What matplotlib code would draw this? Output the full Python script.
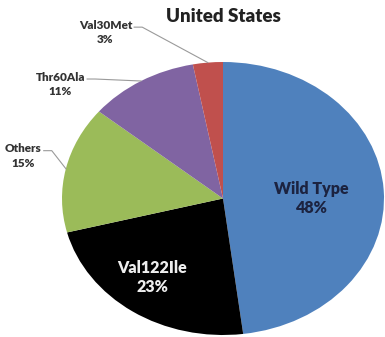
import numpy as np
import matplotlib.pyplot as plt

labels = ['Wild Type', 'Val122Ile', 'Others', 'Thr60Ala', 'Val30Met']
shares = [48, 23, 15, 11, 3]
colors = ['#4F81BD', '#000000', '#9BBB59', '#8064A2', '#C0504D']

plt.rcParams['font.family'] = ['Lato', 'DejaVu Sans']

W, H = 385, 337
fig = plt.figure(figsize=(W / 100, H / 100), dpi=100)
# pie box in pixels: x 62..384, y 62..335 (slightly stretched horizontally)
ax = fig.add_axes([62 / W, (H - 335) / H, 322 / W, 273 / H])
wedges, _ = ax.pie(shares, colors=colors, startangle=90, counterclock=False,
                   radius=1.0, wedgeprops=dict(linewidth=0))
ax.set_aspect('auto')
ax.set_xlim(-1, 1)
ax.set_ylim(-1, 1)
ax.axis('off')

# inside labels
inside = {'Wild Type': (0.55, 0.0, '#1c2340'), 'Val122Ile': (-0.44, -0.58, '#eeeeee')}
for lab, (x, y, c) in inside.items():
    v = shares[labels.index(lab)]
    ax.text(x, y, f'{lab}\n{v}%', ha='center', va='center', fontsize=11.5,
            fontweight='heavy', color=c, linespacing=1.2)

# outside labels: name line, percent line, leader to wedge midpoint
outside = {'Others': (-1.24, 0.365),
           'Thr60Ala': (-1.01, 0.89),
           'Val30Met': (-0.73, 1.27)}
dy = 0.105
fig.canvas.draw()
inv = ax.transData.inverted()
for lab, (tx, ty) in outside.items():
    i = labels.index(lab)
    w = wedges[i]
    mid = np.deg2rad((w.theta1 + w.theta2) / 2)
    ex, ey = np.cos(mid), np.sin(mid)
    t = ax.text(tx, ty, lab, ha='center', va='center', fontsize=8.5,
                fontweight='heavy', color='#333333', clip_on=False)
    ax.text(tx, ty - dy, f'{shares[i]}%', ha='center', va='center',
            fontsize=8.5, fontweight='heavy', color='#333333', clip_on=False)
    bb = t.get_window_extent(fig.canvas.get_renderer())
    sx, sy = inv.transform((bb.x1 + 2, (bb.y0 + bb.y1) / 2 - 2))
    kx = sx + 0.05
    ax.plot([sx, kx, ex], [sy, sy, ey], color='#9a9a9a', lw=0.8,
            clip_on=False)

fig.text(223 / W, 1 - 17 / H, 'United States', ha='center', va='center',
         fontsize=13.5, fontweight='heavy', color='#222222')

fig.savefig('out.png', dpi=100)
